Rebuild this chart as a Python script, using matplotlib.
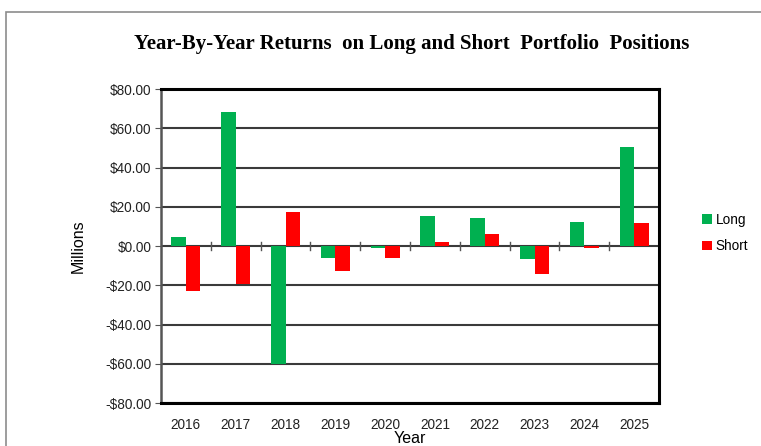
import matplotlib
matplotlib.use("Agg")
import matplotlib.pyplot as plt
from matplotlib.patches import Rectangle
import numpy as np

years = ["2016", "2017", "2018", "2019", "2020", "2021", "2022", "2023", "2024", "2025"]
long_ret = [4.7, 68.4, -60.0, -6.3, -0.8, 15.3, 14.3, -6.8, 12.1, 50.4]
short_ret = [-23.0, -19.4, 17.2, -12.8, -6.3, 1.9, 6.0, -14.1, -1.0, 11.7]
yticks = [-80, -60, -40, -20, 0, 20, 40, 60, 80]

fig = plt.figure(figsize=(7.61, 4.46), dpi=100)
ax = fig.add_axes([161 / 761, 1 - 403 / 446, (659 - 161) / 761, (403 - 89) / 446])

# outer chart frame
fig.patches.append(Rectangle((6 / 761, -0.1), 1.2, 1.1 - 12 / 446,
                             transform=fig.transFigure, fill=False,
                             edgecolor="#8c8c8c", linewidth=1.2))

x = np.arange(len(years))
w = 0.29
ax.bar(x - w / 2, long_ret, w, color="#00B050", label="Long", zorder=3)
ax.bar(x + w / 2, short_ret, w, color="#FF0000", label="Short", zorder=3)

ax.set_xlim(-0.5, len(years) - 0.5)
ax.set_ylim(-80, 80)
ax.set_yticks(yticks)
ax.set_yticklabels([("-$%.2f" % abs(v)) if v < 0 else ("$%.2f" % v) for v in yticks],
                   fontsize=9.8, family="Liberation Sans", color="#222222")
ax.set_xticks(x)
ax.set_xticklabels(years, fontsize=9.8, family="Liberation Sans", color="#222222")
ax.tick_params(axis="x", length=0, pad=11)
ax.tick_params(axis="y", length=4, direction="out", color="#555555", pad=3)

ax.yaxis.grid(True, color="#3a3a3a", linewidth=1.5, zorder=1)
ax.set_axisbelow(True)

# category dividers on the zero line
for b in x[:-1] + 0.5:
    ax.plot([b, b], [-2, 2], color="#555555", linewidth=1, zorder=2)

for s in ["top", "right", "bottom"]:
    ax.spines[s].set_color("black")
    ax.spines[s].set_linewidth(2.2)
ax.spines["left"].set_color("#555555")
ax.spines["left"].set_linewidth(1.8)

ax.set_xlabel("Year", fontsize=11.5, family="Liberation Sans", labelpad=-1)
ax.set_ylabel("Millions", fontsize=11.5, family="Liberation Sans", labelpad=14)

fig.text(0.541, 1 - 44 / 446, "Year-By-Year Returns  on Long and Short  Portfolio  Positions",
         ha="center", va="center", fontsize=15, fontweight="bold", family="Liberation Serif")

fig.legend(loc="center left", bbox_to_anchor=(690 / 761, 1 - 233 / 446), frameon=False,
           prop={"family": "Liberation Sans", "size": 9.8}, handlelength=0.7, handleheight=0.7,
           handletextpad=0.3, labelspacing=0.95)

fig.savefig("out.png", dpi=100)
